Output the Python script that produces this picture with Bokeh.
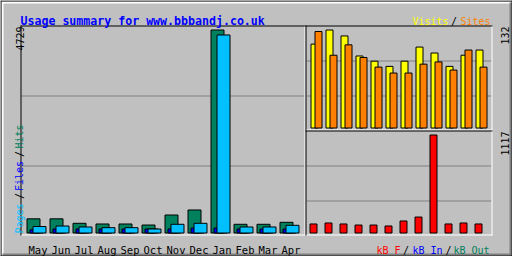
import math
from bokeh.plotting import figure
from bokeh.models import Range1d, ColumnDataSource
from bokeh.transform import dodge
from bokeh.core.properties import value
from bokeh.embed import file_html
from bokeh.resources import INLINE

# ---------------- data ----------------
title = "Usage summary for www.bbbandj.co.uk"
months = ["May", "Jun", "Jul", "Aug", "Sep", "Oct", "Nov", "Dec", "Jan", "Feb", "Mar", "Apr"]
hits = [330, 330, 226, 210, 210, 186, 419, 536, 4729, 203, 203, 249]
files = [75, 93, 93, 93, 93, 93, 93, 116, 116, 93, 93, 93]
pages = [151, 163, 140, 124, 124, 93, 203, 226, 4613, 140, 140, 179]
visits = [113, 132, 124, 97, 90, 83, 90, 109, 101, 83, 98, 105]
sites = [130, 98, 112, 95, 82, 74, 74, 86, 89, 78, 105, 82]
kbytes = [103, 114, 103, 91, 91, 80, 137, 182, 1117, 103, 114, 103]

# ---------------- style ----------------
W, H = 512, 256
GREY = "#C0C0C0"
DKGREY = "#808080"
WHITE = "#FFFFFF"
BLACK = "#000000"
C_HIT = "#00805C"
C_FILE = "#0000FF"
C_PAGE = "#00C0FF"
C_VISIT = "#FFFF00"
C_SITE = "#FF8000"
C_KB = "#FF0000"
MONO = "DejaVu Sans Mono"
FS = "10px"
FS_MONTH = "10.5px"


def Y(pix):
    """pixel row (from top) -> default-range y"""
    return H - pix


def rng(p0, p1, v0, v1, total, flip=False):
    """Range so that value v0 lands on pixel p0 and v1 on pixel p1."""
    if flip:
        p0, p1 = total - p0, total - p1
    s = (p1 - p0) / (v1 - v0)
    start = v0 - p0 / s
    return Range1d(start, start + total / s)


p = figure(width=W, height=H, x_range=Range1d(0, W), y_range=Range1d(0, H),
           x_axis_type=None, y_axis_type=None, toolbar_location=None,
           output_backend="svg", min_border=0,
           background_fill_color=GREY, border_fill_color=GREY,
           outline_line_color=None)

p.extra_x_ranges = {
    "mx": rng(33, 56, 0, 1, W),
    "vx": rng(314, 329, 0, 1, W),
    "kx": rng(313, 328, 0, 1, W),
}
p.extra_y_ranges = {
    "my": rng(232.5, 29.5, 0, max(hits), H, flip=True),
    "vy": rng(127.5, 29.5, 0, max(visits), H, flip=True),
    "ky": rng(232.5, 134.5, 0, max(kbytes), H, flip=True),
}


def new_bands():
    return {"l": [], "r": [], "t": [], "b": [], "c": []}


def band(d, l, r, t, b, c):
    d["l"].append(l); d["r"].append(r)
    d["t"].append(Y(t)); d["b"].append(Y(b)); d["c"].append(c)


# ---------------- grid lines ----------------
g = new_bands()
for yy in (95, 165):
    band(g, 21, 304, yy, yy + 1, DKGREY)
for yy in (60, 95):
    band(g, 306, 491, yy, yy + 1, DKGREY)
for yy in (165, 200):
    band(g, 306, 491, yy, yy + 1, DKGREY)
p.quad(left="l", right="r", top="t", bottom="b", fill_color="c", line_color=None,
       source=ColumnDataSource(g))

# ---------------- bars ----------------
src = ColumnDataSource(dict(i=list(range(len(months))), m=months, hits=hits, files=files,
                            pages=pages, visits=visits, sites=sites, kbytes=kbytes))

p.vbar(x="i", top="hits", bottom=0, width=13 / 23, source=src,
       x_range_name="mx", y_range_name="my",
       fill_color=C_HIT, line_color=BLACK, line_width=1)
p.vbar(x=dodge("i", 3 / 23), top="files", bottom=0, width=13 / 23, source=src,
       x_range_name="mx", y_range_name="my",
       fill_color=C_FILE, line_color=BLACK, line_width=1)
p.vbar(x=dodge("i", 6 / 23), top="pages", bottom=0, width=13 / 23, source=src,
       x_range_name="mx", y_range_name="my",
       fill_color=C_PAGE, line_color=BLACK, line_width=1)

p.vbar(x="i", top="visits", bottom=0, width=7 / 15, source=src,
       x_range_name="vx", y_range_name="vy",
       fill_color=C_VISIT, line_color=BLACK, line_width=1)
p.vbar(x=dodge("i", 4 / 15), top="sites", bottom=0, width=7 / 15, source=src,
       x_range_name="vx", y_range_name="vy",
       fill_color=C_SITE, line_color=BLACK, line_width=1)

p.vbar(x="i", top="kbytes", bottom=0, width=7 / 15, source=src,
       x_range_name="kx", y_range_name="ky",
       fill_color=C_KB, line_color=BLACK, line_width=1)

# ---------------- frames & bevel ----------------
f = new_bands()
# outer bevel
band(f, 1, 511, 1, 3, WHITE)
band(f, 1, 3, 1, 255, WHITE)
band(f, 2, 511, 253, 255, DKGREY)
band(f, 509, 511, 2, 255, DKGREY)
band(f, 0, 512, 0, 1, BLACK)
band(f, 0, 512, 255, 256, BLACK)
band(f, 0, 1, 0, 256, BLACK)
band(f, 511, 512, 0, 256, BLACK)
# main chart frame
band(f, 20, 305, 25, 26, BLACK)
band(f, 20, 21, 25, 235, BLACK)
band(f, 21, 305, 234, 235, WHITE)
band(f, 304, 305, 26, 235, WHITE)
# top-right frame
band(f, 305, 492, 25, 26, BLACK)
band(f, 305, 306, 25, 130, BLACK)
band(f, 306, 492, 129, 130, WHITE)
band(f, 491, 492, 26, 130, WHITE)
# bottom-right frame
band(f, 305, 492, 130, 131, BLACK)
band(f, 305, 306, 130, 235, BLACK)
band(f, 306, 492, 234, 235, WHITE)
band(f, 491, 492, 131, 235, WHITE)
p.quad(left="l", right="r", top="t", bottom="b", fill_color="c", line_color=None,
       source=ColumnDataSource(f))

# ---------------- texts ----------------
p.text(x=[20], y=[Y(20.5)], text=[title], text_font=value(MONO), text_font_size="11.6px",
       text_font_style="bold", text_color=C_FILE, text_baseline="alphabetic",
       text_align="left")

p.text(x="i", y=Y(249.5), text="m", source=src, x_range_name="mx", x_offset=-5,
       text_font=value(MONO), text_font_size=FS_MONTH, text_color=BLACK,
       text_baseline="alphabetic", text_align="left")


def label(x, ypix, s, color, align="left", angle=0.0):
    p.text(x=[x], y=[Y(ypix)], text=[s], text_font=value(MONO), text_font_size=FS,
           text_color=color, text_baseline="alphabetic", text_align=align,
           angle=angle)


up = math.pi / 2
# left vertical legend (reads bottom to top)
label(19, 218, "Pages", C_PAGE, "center", up)
label(19, 195.5, "/", BLACK, "center", up)
label(19, 175.5, "Files", C_FILE, "center", up)
label(19, 153.5, "/", BLACK, "center", up)
label(19, 136, "Hits", C_HIT, "center", up)
# max labels
label(19.5, 38, str(max(hits)), BLACK, "center", up)
label(504, 35, str(max(visits)), BLACK, "center", up)
label(504, 143, str(max(kbytes)), BLACK, "center", up)
# top-right legend
label(448, 21, "Visits", C_VISIT, "right")
label(453.5, 21, "/", BLACK, "center")
label(490, 21, "Sites", C_SITE, "right")
# bottom-right legend
label(400, 249.5, "kB F", C_KB, "right")
label(405.5, 249.5, "/", BLACK, "center")
label(442, 249.5, "kB In", C_FILE, "right")
label(448, 249.5, "/", BLACK, "center")
label(489, 249.5, "kB Out", C_HIT, "right")

open("out.html", "w").write(file_html(p, INLINE))
